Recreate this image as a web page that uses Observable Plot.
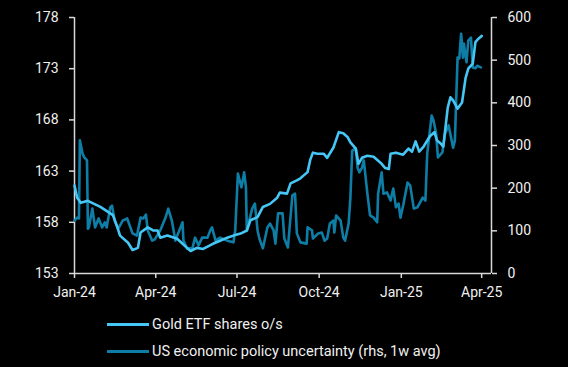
<!DOCTYPE html>
<html>
<head>
<meta charset="utf-8">
<script src="https://cdn.jsdelivr.net/npm/d3@7"></script>
<script src="https://cdn.jsdelivr.net/npm/@observablehq/plot@0.6"></script>
<style>
  html, body { margin: 0; padding: 0; background: #000; }
  #wrap { position: relative; width: 568px; height: 367px; background: #000; font-family: Roboto, "Noto Sans", sans-serif; }
  #legend { position: absolute; left: 107px; top: 311px; color: #f0f0f0; font-size: 14.5px; }
  .row { display: flex; align-items: center; height: 27px; }
  .sw { width: 42px; height: 3px; margin-right: 3px; }
</style>
</head>
<body>
<div id="wrap"><div id="legend"></div></div>
<script>
// Gold ETF shares outstanding (left axis)
const goldDates = ["2024-01-01","2024-01-04","2024-01-08","2024-01-16","2024-01-30","2024-02-13","2024-02-18","2024-02-21","2024-03-01","2024-03-06","2024-03-12","2024-03-15","2024-03-23","2024-03-29","2024-04-03","2024-04-06","2024-04-14","2024-04-25","2024-05-06","2024-05-10","2024-05-17","2024-05-24","2024-06-04","2024-06-12","2024-06-20","2024-06-27","2024-07-05","2024-07-12","2024-07-16","2024-07-24","2024-07-30","2024-08-07","2024-08-15","2024-08-18","2024-08-26","2024-08-30","2024-09-06","2024-09-10","2024-09-18","2024-09-21","2024-09-24","2024-09-29","2024-10-06","2024-10-10","2024-10-17","2024-10-23","2024-10-28","2024-11-02","2024-11-05","2024-11-11","2024-11-14","2024-11-18","2024-11-24","2024-12-01","2024-12-09","2024-12-14","2024-12-18","2024-12-20","2024-12-26","2025-01-03","2025-01-09","2025-01-13","2025-01-17","2025-01-21","2025-01-26","2025-02-02","2025-02-07","2025-02-10","2025-02-14","2025-02-17","2025-02-22","2025-02-25","2025-02-28","2025-03-05","2025-03-10","2025-03-14","2025-03-17","2025-03-22","2025-03-25","2025-03-28","2025-04-01"];
const goldValues = [161.6,160.4,159.9,160.1,159.5,158.7,157.5,156.7,156.0,155.3,155.5,157.0,157.5,157.2,157.2,156.5,156.7,156.4,155.5,155.2,155.5,155.4,155.9,156.2,156.5,156.7,156.9,157.2,158.2,158.5,159.5,159.8,160.4,160.9,160.8,161.8,162.1,162.3,162.9,164.1,164.8,164.7,164.7,164.3,165.3,166.8,166.7,166.3,165.8,165.2,163.7,164.3,164.5,164.4,163.8,163.3,163.2,164.7,164.8,164.6,165.2,164.9,165.9,164.9,165.4,166.4,166.8,166.0,165.7,165.4,169.2,170.2,169.9,169.1,169.7,172.1,173.0,173.5,175.6,175.9,176.2];

// US economic policy uncertainty, 1w avg (right axis)
const epuDates = ["2024-01-01","2024-01-04","2024-01-06","2024-01-07","2024-01-10","2024-01-12","2024-01-15","2024-01-16","2024-01-17","2024-01-21","2024-01-24","2024-01-28","2024-02-01","2024-02-04","2024-02-06","2024-02-10","2024-02-12","2024-02-15","2024-02-19","2024-02-24","2024-02-29","2024-03-06","2024-03-11","2024-03-15","2024-03-18","2024-03-21","2024-03-23","2024-03-28","2024-03-31","2024-04-06","2024-04-12","2024-04-15","2024-04-19","2024-04-23","2024-04-26","2024-05-01","2024-05-02","2024-05-06","2024-05-12","2024-05-15","2024-05-19","2024-05-23","2024-05-29","2024-06-01","2024-06-03","2024-06-07","2024-06-12","2024-06-20","2024-06-27","2024-06-29","2024-07-02","2024-07-06","2024-07-09","2024-07-11","2024-07-12","2024-07-18","2024-07-21","2024-07-24","2024-07-26","2024-07-30","2024-08-04","2024-08-07","2024-08-11","2024-08-13","2024-08-16","2024-08-21","2024-08-23","2024-08-27","2024-09-01","2024-09-04","2024-09-06","2024-09-10","2024-09-17","2024-09-18","2024-09-23","2024-09-24","2024-09-30","2024-10-04","2024-10-07","2024-10-10","2024-10-13","2024-10-17","2024-10-18","2024-10-20","2024-10-25","2024-10-28","2024-10-30","2024-11-03","2024-11-05","2024-11-07","2024-11-11","2024-11-13","2024-11-15","2024-11-18","2024-11-20","2024-11-24","2024-11-27","2024-12-01","2024-12-05","2024-12-06","2024-12-10","2024-12-12","2024-12-16","2024-12-20","2024-12-23","2024-12-26","2024-12-29","2024-12-31","2025-01-03","2025-01-08","2025-01-11","2025-01-15","2025-01-19","2025-01-25","2025-01-28","2025-01-30","2025-02-04","2025-02-06","2025-02-09","2025-02-11","2025-02-16","2025-02-19","2025-02-23","2025-02-26","2025-02-28","2025-03-02","2025-03-05","2025-03-07","2025-03-09","2025-03-11","2025-03-12","2025-03-15","2025-03-17","2025-03-20","2025-03-22","2025-03-25","2025-03-27","2025-03-31"];
const epuValues = [124,131,129,312,281,272,265,105,108,152,108,129,108,120,108,155,159,124,105,124,129,94,89,131,129,138,101,77,80,101,131,152,124,77,94,120,77,59,59,84,66,84,84,101,108,77,84,77,73,101,234,202,237,202,101,152,164,101,82,59,108,117,101,70,141,141,82,61,183,187,94,73,70,108,101,82,94,96,77,82,117,124,96,136,124,84,77,117,178,288,293,248,237,248,265,187,136,131,120,187,237,187,190,171,199,155,164,131,159,213,206,152,155,178,171,281,370,359,328,272,284,328,347,316,295,312,506,504,562,506,539,495,546,553,483,481,487,483];

const xTickDates = ["2024-01-01","2024-04-01","2024-07-01","2024-10-01","2025-01-01","2025-04-01"];
const xDomain = ["2024-01-01","2025-04-12"];
const leftTicks = [153,158,163,168,173,178];
const rightTicks = [0,100,200,300,400,500,600];
const seriesNames = ["Gold ETF shares o/s","US economic policy uncertainty (rhs, 1w avg)"];
const seriesColors = ["#45c6f5","#0f7ea6"];

const parse = d3.utcParse("%Y-%m-%d");
const toLeft = v => 153 + v * 25 / 600;
const fromLeft = y => Math.round((y - 153) * 600 / 25);

const gold = goldDates.map((d, i) => ({date: parse(d), value: goldValues[i]}));
const epu = epuDates.map((d, i) => ({date: parse(d), value: toLeft(epuValues[i])}));
const x0 = parse(xDomain[0]), x1 = parse(xDomain[1]);
const axisColor = "#d8d8d8";
const textColor = "#f0f0f0";

const chart = Plot.plot({
  width: 568,
  height: 305,
  marginTop: 17,
  marginBottom: 32,
  marginLeft: 74,
  marginRight: 77,
  style: {background: "#000", color: textColor, fontFamily: "Roboto, 'Noto Sans', sans-serif", fontSize: "14px"},
  x: {type: "utc", domain: [x0, x1]},
  y: {domain: [153, 178]},
  marks: [
    Plot.ruleY([153], {x1: x0, x2: x1, stroke: axisColor, strokeWidth: 1.5}),
    Plot.ruleX([x0], {y1: 153, y2: 178, stroke: axisColor, strokeWidth: 1.5}),
    Plot.ruleX([x1], {y1: 153, y2: 178, stroke: axisColor, strokeWidth: 1.5}),
    Plot.axisY(leftTicks, {anchor: "left", tickSize: 5, tickPadding: 11, stroke: axisColor, strokeWidth: 1.5, fill: textColor, fontSize: 14, label: null}),
    Plot.axisY(rightTicks.map(toLeft), {anchor: "right", tickSize: 5, tickPadding: 11, stroke: axisColor, strokeWidth: 1.5, fill: textColor, fontSize: 14, label: null, tickFormat: fromLeft}),
    Plot.axisX(xTickDates.map(parse), {anchor: "bottom", tickSize: 5, tickPadding: 9, stroke: axisColor, strokeWidth: 1.5, fill: textColor, fontSize: 14, label: null, tickFormat: d3.utcFormat("%b-%y")}),
    Plot.line(epu, {x: "date", y: "value", stroke: seriesColors[1], strokeWidth: 2.6, curve: "linear"}),
    Plot.line(gold, {x: "date", y: "value", stroke: seriesColors[0], strokeWidth: 2.6, curve: "linear"})
  ]
});

const wrap = document.getElementById("wrap");
wrap.insertBefore(chart, wrap.firstChild);
const legend = document.getElementById("legend");
seriesNames.forEach((name, i) => {
  const row = document.createElement("div");
  row.className = "row";
  const sw = document.createElement("div");
  sw.className = "sw";
  sw.style.background = seriesColors[i];
  const t = document.createElement("span");
  t.textContent = name;
  row.appendChild(sw);
  row.appendChild(t);
  legend.appendChild(row);
});
</script>
</body>
</html>
